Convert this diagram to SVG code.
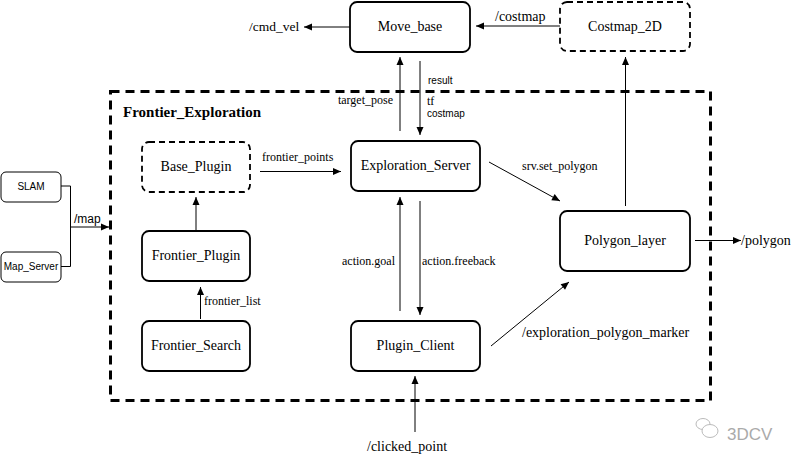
<svg xmlns="http://www.w3.org/2000/svg" width="802" height="462" viewBox="0 0 802 462">
<defs>
<marker id="ah" markerUnits="userSpaceOnUse" markerWidth="10" markerHeight="10" viewBox="0 0 10 10" refX="9" refY="5" orient="auto">
<path d="M1,1.5 L9,5 L1,8.5 Z" fill="#000"/>
</marker>
</defs>
<style>
.n{fill:#fff;stroke:#000;stroke-width:1.8}
.d{stroke-dasharray:6,4}
.t{font-family:"Liberation Serif","Times New Roman",serif;font-size:14px;fill:#000;text-anchor:middle}
.e{font-family:"Liberation Serif","Times New Roman",serif;font-size:14px;fill:#000}
.s{font-family:"Liberation Serif","Times New Roman",serif;font-size:12px;fill:#000}
.a{font-family:"Liberation Sans",Arial,sans-serif;font-size:10px;fill:#000}
.c{fill:none;stroke:#000;stroke-width:1;marker-end:url(#ah)}
</style>
<rect width="802" height="462" fill="#fff"/>
<g id="frontier_exploration">
<rect x="110.5" y="91.5" width="600" height="309" fill="none" stroke="#000" stroke-width="3" stroke-dasharray="9,6"/>
<text x="123" y="117" font-family="Liberation Serif,Times New Roman,serif" font-size="15" font-weight="bold">Frontier_Exploration</text>
</g>
<g id="connectors">
<path class="c" d="M350,27 H304"/>
<path class="c" d="M560,26 H476"/>
<path class="c" d="M400,131 V57"/>
<path class="c" d="M420,61 V135"/>
<path class="c" d="M260,171.5 H341"/>
<path class="c" d="M196,230 V197"/>
<path class="c" d="M200.5,319 V287"/>
<path fill="none" stroke="#000" stroke-width="1" d="M61,186 H70.5 V266.5 H61"/>
<path class="c" d="M70.5,227 H109"/>
<path class="c" d="M400,311 V197"/>
<path class="c" d="M420,201 V315"/>
<path class="c" d="M415,432 V376"/>
<path class="c" d="M489,162 L560,201"/>
<path class="c" d="M625.5,206 V57"/>
<path class="c" d="M695,240.5 H741"/>
<path class="c" d="M491,346 L569,282"/>
<text x="249" y="31" font-family="Liberation Serif,Times New Roman,serif" font-size="13.5">/cmd_vel</text>
<text class="e" x="495" y="21">/costmap</text>
<text class="s" x="393" y="104" text-anchor="end">target_pose</text>
<text class="a" x="428" y="84">result</text>
<text x="427" y="105" font-family="Liberation Serif,Times New Roman,serif" font-size="12">tf</text>
<text class="a" x="427" y="117">costmap</text>
<text class="s" x="262" y="161">frontier_points</text>
<text class="s" x="204" y="305">frontier_list</text>
<text x="74" y="223" font-family="Liberation Sans,Arial,sans-serif" font-size="12">/map</text>
<text class="s" x="395" y="265" text-anchor="end">action.goal</text>
<text class="s" x="422" y="265">action.freeback</text>
<text class="s" x="522" y="170">srv.set_polygon</text>
<text class="e" x="522" y="337">/exploration_polygon_marker</text>
<text class="e" x="741" y="245">/polygon</text>
<text class="e" x="367" y="451">/clicked_point</text>
</g>
<g id="move_base"><rect class="n" x="350" y="2" width="120" height="50" rx="7"/><text class="t" x="410" y="31">Move_base</text></g>
<g id="costmap_2d"><rect class="n d" x="560" y="2" width="130" height="49" rx="7"/><text class="t" x="625" y="31">Costmap_2D</text></g>
<g id="exploration_server"><rect class="n" x="351" y="141" width="129" height="50" rx="7"/><text class="t" x="415.5" y="170">Exploration_Server</text></g>
<g id="base_plugin"><rect class="n d" x="142" y="142" width="108" height="50" rx="7"/><text class="t" x="196" y="171">Base_Plugin</text></g>
<g id="frontier_plugin"><rect class="n" x="142" y="231" width="108" height="50" rx="7"/><text class="t" x="196" y="260">Frontier_Plugin</text></g>
<g id="frontier_search"><rect class="n" x="142" y="321" width="108" height="50" rx="7"/><text class="t" x="196" y="350">Frontier_Search</text></g>
<g id="plugin_client"><rect class="n" x="351" y="321" width="129" height="50" rx="7"/><text class="t" x="415.5" y="350">Plugin_Client</text></g>
<g id="polygon_layer"><rect class="n" x="560" y="211" width="130" height="60" rx="7"/><text class="t" x="625" y="245">Polygon_layer</text></g>
<g id="slam"><rect x="1" y="172" width="60" height="30" rx="5" fill="#fff" stroke="#000" stroke-width="1"/><text x="31" y="190" font-family="Liberation Sans,Arial,sans-serif" font-size="10" text-anchor="middle">SLAM</text></g>
<g id="map_server"><rect x="1" y="252" width="60" height="30" rx="5" fill="#fff" stroke="#000" stroke-width="1"/><text x="31" y="270" font-family="Liberation Sans,Arial,sans-serif" font-size="10" text-anchor="middle">Map_Server</text></g>
<g id="watermark" fill="none" stroke="#bbb" stroke-width="1">
<ellipse cx="703" cy="424" rx="7" ry="5.5"/>
<ellipse cx="710" cy="431" rx="8" ry="6.5" fill="#fff"/>
<text x="727" y="440" font-family="Liberation Sans,Arial,sans-serif" font-size="17" fill="#aaa" stroke="none">3DCV</text>
</g>
</svg>
